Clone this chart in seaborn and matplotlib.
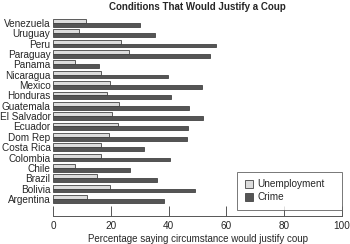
import numpy as np
import pandas as pd
import matplotlib
matplotlib.use('Agg')
import matplotlib.pyplot as plt
import seaborn as sns

# Data (percent saying circumstance would justify a coup)
countries = ['Venezuela', 'Uruguay', 'Peru', 'Paraguay', 'Panama', 'Nicaragua',
             'Mexico', 'Honduras', 'Guatemala', 'El Salvador', 'Ecuador',
             'Dom Rep', 'Costa Rica', 'Colombia', 'Chile', 'Brazil', 'Bolivia',
             'Argentina']
unemployment = [11.5, 9.0, 23.5, 26.1, 7.4, 16.4, 19.6, 18.5, 22.8, 20.4,
                22.5, 19.2, 16.7, 16.4, 7.5, 15.0, 19.7, 11.8]
crime = [30.0, 35.4, 56.3, 54.2, 15.8, 39.6, 51.6, 40.8, 47.0, 51.9,
         46.7, 46.4, 31.4, 40.4, 26.6, 36.0, 49.0, 38.3]

df = pd.DataFrame({'country': countries * 2,
                   'pct': unemployment + crime,
                   'cond': ['Unemployment'] * len(countries) + ['Crime'] * len(countries)})

sns.set_style('white')
plt.rcParams['font.family'] = ['Liberation Sans', 'DejaVu Sans']

fig = plt.figure(figsize=(3.5, 2.44), dpi=100)
ax = fig.add_axes([0.152, 0.115, 0.825, 0.828])

sns.barplot(data=df, x='pct', y='country', hue='cond', orient='h',
            order=countries, hue_order=['Unemployment', 'Crime'],
            palette={'Unemployment': '#dcdcdc', 'Crime': '#555555'},
            width=0.74, edgecolor='#444444', linewidth=0.6, ax=ax)

ax.set_xlim(0, 100)
ax.set_ylim(18.64, -0.86)
ax.set_xticks([0, 20, 40, 60, 80, 100])
ax.tick_params(axis='x', direction='in', length=7, width=0.7, color='#555555',
               labelsize=7.2, pad=4, bottom=True)
ax.tick_params(axis='y', length=0, labelsize=7.2, pad=2)
for s in ['top', 'right', 'left']:
    ax.spines[s].set_visible(False)
ax.spines['bottom'].set_color('#555555')
ax.spines['bottom'].set_linewidth(0.7)

ax.set_ylabel('')
ax.set_xlabel('Percentage saying circumstance would justify coup', fontsize=7, labelpad=2)
ax.set_title('Conditions That Would Justify a Coup', fontsize=7, fontweight='bold', pad=3)

# legend box stretched to a fixed width, like the original
leg = ax.legend(loc='lower left', bbox_to_anchor=(0.637, 0.03, 0.363, 0.2), mode='expand',
                fontsize=7.2, frameon=True, fancybox=False, handlelength=0.8,
                handleheight=0.8, borderpad=0.75, labelspacing=0.3,
                handletextpad=0.5, borderaxespad=0)
leg.get_frame().set_edgecolor('#555555')
leg.get_frame().set_linewidth(0.7)

fig.savefig('out.png', dpi=100)
